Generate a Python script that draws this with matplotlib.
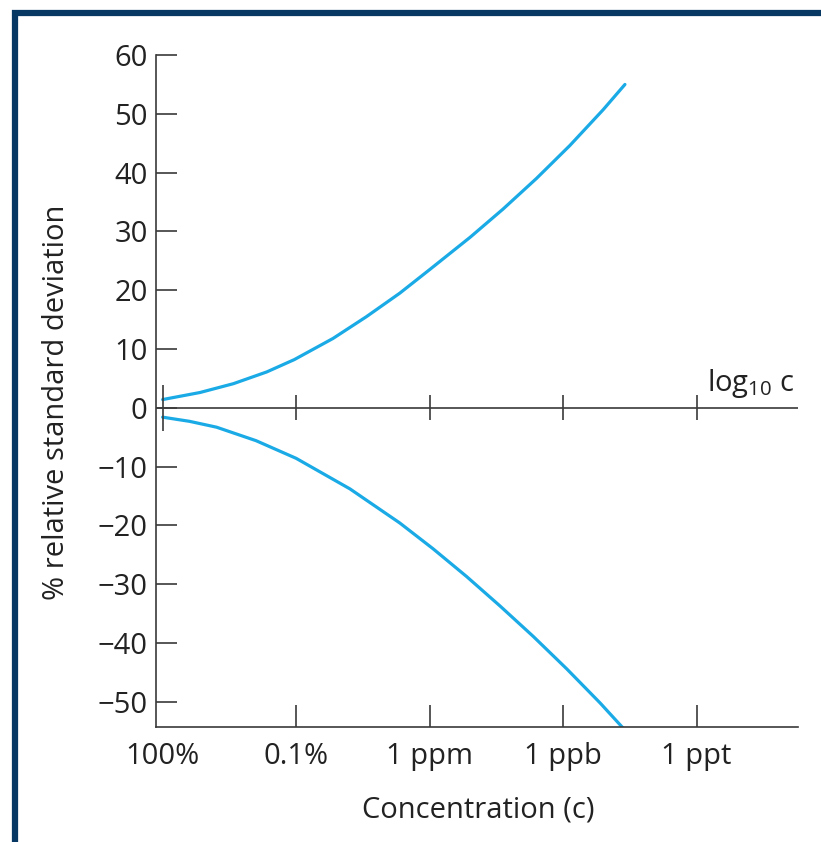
import matplotlib.pyplot as plt
from matplotlib.patches import Rectangle

plt.rcParams['font.family'] = ['Open Sans', 'DejaVu Sans']
plt.rcParams['mathtext.fontset'] = 'custom'
plt.rcParams['mathtext.rm'] = 'Open Sans'
plt.rcParams['mathtext.default'] = 'regular'

# x = -log10(c)
conc_ticks = [0, 3, 6, 9, 12]
conc_labels = ['100%', '0.1%', '1 ppm', '1 ppb', '1 ppt']
rsd_ticks = [60, 50, 40, 30, 20, 10, 0, -10, -20, -30, -40, -50]

# upper branch of the trumpet
x_up = [0, 0.84, 1.59, 2.34, 2.96, 3.83, 4.58, 5.33, 6.0, 6.91, 7.65, 8.40, 9.15, 9.90, 10.39]
y_up = [1.4, 2.6, 4.1, 6.1, 8.2, 11.8, 15.5, 19.5, 23.5, 29.0, 33.8, 39.0, 44.6, 50.7, 55.0]
# lower branch (runs off the bottom)
x_lo = [0, 0.6, 1.21, 2.1, 3.0, 4.21, 5.33, 6.08, 6.83, 7.58, 8.33, 9.08, 9.83, 10.35]
y_lo = [-1.6, -2.3, -3.3, -5.6, -8.6, -13.8, -19.6, -24.0, -28.7, -33.7, -38.9, -44.4, -50.2, -54.5]

line_col = '#1aaae6'
axis_col = '#3a3a3a'

fig = plt.figure(figsize=(8.21, 8.42), dpi=100)
ax = fig.add_axes([0.190, 0.1366, 0.782, 0.798])

ax.plot(x_up, y_up, color=line_col, lw=2.3, solid_capstyle='round', solid_joinstyle='round')
ax.plot(x_lo, y_lo, color=line_col, lw=2.3, solid_capstyle='round', solid_joinstyle='round')

ax.set_xlim(-0.15, 14.28)
ax.set_ylim(-54.3, 60)

for s in ['top', 'right']:
    ax.spines[s].set_visible(False)
for s in ['left', 'bottom']:
    ax.spines[s].set_color(axis_col)
    ax.spines[s].set_linewidth(1.2)

ax.set_yticks(rsd_ticks)
ax.set_yticklabels([str(v).replace('-', '\u2212') for v in rsd_ticks])
ax.set_xticks(conc_ticks)
ax.set_xticklabels(conc_labels)
ax.tick_params(axis='y', direction='in', length=15, width=1.2, color=axis_col,
               labelsize=21, labelcolor='#222222', pad=6)
ax.tick_params(axis='x', direction='in', length=16, width=1.2, color=axis_col,
               labelsize=21, labelcolor='#222222', pad=11)
ax.xaxis.get_major_ticks()[0].tick1line.set_visible(False)

# zero line with its own crossing ticks
ax.axhline(0, color=axis_col, lw=1.2)
ax.vlines(conc_ticks[1:], -2.1, 2.1, color=axis_col, lw=1.2)
ax.vlines(conc_ticks[0], -4.0, 3.9, color=axis_col, lw=1.2)
ax.text(14.2, 1.3, 'log$_{10}$ c', ha='right', va='bottom', fontsize=21, color='#222222')

fig.text(0.069, 0.5226, '% relative standard deviation', rotation=90,
         ha='center', va='center', fontsize=21, color='#222222')
fig.text(0.583, 0.038, 'Concentration (c)', ha='center', va='center',
         fontsize=21, color='#222222')

# navy frame, cut off at right and bottom
fig.add_artist(Rectangle((15 / 821, -0.1), 1.2, 1 - 13 / 842 + 0.1,
                         transform=fig.transFigure, fill=False,
                         edgecolor='#073763', lw=4.5))

fig.savefig('out.png', dpi=100)
